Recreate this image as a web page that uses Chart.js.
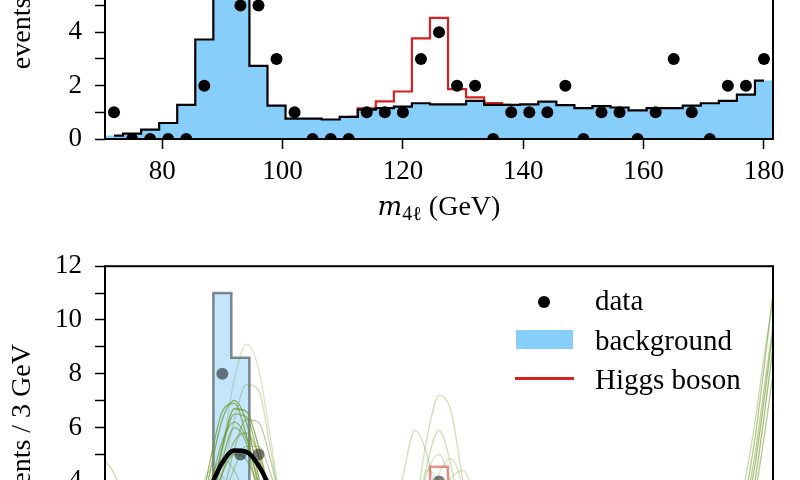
<!DOCTYPE html>
<html>
<head>
<meta charset="utf-8">
<script src="https://cdn.jsdelivr.net/npm/chart.js@4.4.0/dist/chart.umd.min.js"></script>
<style>
  body { margin: 0; width: 800px; height: 480px; overflow: hidden; background: #fff; position: relative; font-family: "Liberation Serif", serif; color: #000; }
  canvas { position: absolute; left: 0; }
  #topChart { top: -197px; }
  #bottomChart { top: 237px; }
  .xtitle { position: absolute; left: 105px; width: 668px; top: 192px; text-align: center; font-size: 28px; line-height: 28px; white-space: nowrap; }
  .xtitle i { font-family: "DejaVu Serif", serif; font-size: 26px; }
  .xtitle sub { font-size: 20px; line-height: 0; vertical-align: -5px; }
  .leg { position: absolute; }
  .legtext { position: absolute; left: 595px; font-size: 29px; line-height: 29px; white-space: nowrap; }
</style>
</head>
<body>
<canvas id="topChart" width="800" height="437"></canvas>
<canvas id="bottomChart" width="800" height="453"></canvas>
<div class="xtitle"><i>m</i><sub>4ℓ</sub>&nbsp;(GeV)</div>

<div class="leg" style="left:538px; top:296px; width:12px; height:12px; border-radius:50%; background:#000;"></div>
<div class="leg" style="left:516px; top:330px; width:57px; height:19px; background:#87cefa;"></div>
<div class="leg" style="left:515px; top:377px; width:59px; height:3px; background:#d8201f;"></div>
<div class="legtext" style="top:286px;">data</div>
<div class="legtext" style="top:326px;">background</div>
<div class="legtext" style="top:365px;">Higgs boson</div>

<script>
// bins of 3 GeV, centres
var binCenters = [72, 75, 78, 81, 84, 87, 90, 93, 96, 99, 102, 105, 108, 111, 114, 117, 120, 123, 126,
                  129, 132, 135, 138, 141, 144, 147, 150, 153, 156, 159, 162, 165, 168, 171, 174, 177, 180];
var binWidth = 3;

// observed events
var dataCounts = [1, 0, 0, 0, 0, 2, 8, 5, 5, 3, 1, 0, 0, 0, 1, 1, 1, 3, 4, 2, 2, 0, 1, 1, 1, 2, 0, 1, 1, 0, 1, 3, 1, 0, 2, 2, 3];

// expected background
var background = [0.13, 0.2, 0.35, 0.6, 1.28, 3.73, 11.0, 8.6, 2.74, 1.25, 0.76, 0.76, 0.73, 0.83, 1.1, 1.16, 1.21, 1.34, 1.3,
                  1.3, 1.43, 1.28, 1.28, 1.3, 1.4, 1.27, 1.16, 1.23, 1.18, 1.07, 1.16, 1.16, 1.25, 1.34, 1.43, 1.66, 2.19];

// background + higgs signal
var higgsCenters = [111, 114, 117, 120, 123, 126, 129, 132, 135, 138];
var higgsTotal = [0.83, 1.15, 1.41, 1.78, 3.77, 4.54, 1.87, 1.56, 1.35, 1.28];

var xTickValues = [80, 100, 120, 140, 160, 180];
var topYTicks = [0, 1, 2, 3, 4, 5, 6, 7, 8, 9, 10, 11];
var bottomYTicks = [0, 1, 2, 3, 4, 5, 6, 7, 8, 9, 10, 11, 12];

// fitted curve (black) and sampled curves (green) of the lower panel
var fitX = [84, 86, 88, 90, 92, 94, 96, 98, 100, 102];
var fitY = [1.6, 2.6, 3.75, 4.7, 5.15, 5.1, 4.6, 3.7, 2.5, 1.5];

var zCurveX = [84, 86, 88, 90, 92, 94, 96, 98, 100, 102];
var zCurves = [
  [0.3, 1.2, 2.8, 5.2, 7.8, 9.1, 8.2, 5.6, 2.8, 1.0],
  [0.3, 1.0, 2.4, 4.3, 6.3, 7.6, 7.4, 5.2, 2.8, 1.2],
  [0.5, 1.6, 3.3, 5.3, 6.7, 6.6, 5.3, 3.4, 1.6, 0.6],
  [0.6, 1.9, 3.8, 5.5, 6.2, 5.6, 4.0, 2.2, 0.9, 0.3],
  [0.3, 1.0, 2.5, 4.3, 5.5, 5.8, 5.0, 3.4, 1.8, 0.7],
  [0.8, 2.5, 4.8, 6.6, 6.9, 5.7, 3.8, 2.0, 0.8, 0.3],
  [0.2, 0.7, 1.8, 3.2, 4.5, 5.3, 5.3, 4.3, 2.8, 1.3],
  [1.0, 2.6, 4.1, 4.8, 4.4, 3.3, 2.0, 1.0, 0.4, 0.1],
  [0.2, 0.6, 1.7, 3.4, 5.2, 6.3, 6.2, 4.8, 2.9, 1.3],
  [0.5, 1.5, 3.0, 4.3, 5.0, 4.8, 3.8, 2.4, 1.2, 0.5],
  [0.7, 2.2, 4.4, 6.3, 7.0, 6.2, 4.2, 2.2, 0.9, 0.3],
  [0.4, 1.4, 3.2, 5.2, 6.5, 6.4, 4.9, 3.0, 1.4, 0.5],
  [1.8, 3.4, 4.4, 4.2, 3.2, 2.0, 1.0, 0.4, 0.1, 0.0],
  [0.4, 1.2, 2.8, 4.8, 6.0, 5.4, 3.4, 1.6, 0.6, 0.2]
];
var hCurveX = [118, 120, 122, 124, 126, 128, 130, 132, 134];
var hCurves = [
  [0.5, 1.3, 3.0, 5.6, 7.2, 6.6, 4.0, 1.8, 0.6],
  [2.2, 4.2, 5.9, 5.0, 2.9, 1.2, 0.4, 0.1, 0.0],
  [0.2, 0.7, 2.0, 4.6, 5.9, 4.6, 2.2, 0.8, 0.2],
  [0.1, 0.4, 1.2, 2.8, 4.3, 4.85, 3.8, 2.0, 0.8],
  [0.0, 0.2, 0.6, 1.6, 3.0, 4.1, 4.4, 3.4, 1.8],
  [0.3, 1.0, 2.4, 4.3, 5.0, 3.9, 2.0, 0.8, 0.2],
  [0.5, 1.4, 3.0, 4.4, 4.0, 2.5, 1.1, 0.4, 0.1]
];
var rCurveX = [172, 175, 177, 178.5, 180, 181.5];
var rCurves = [
  [0.5, 1.8, 3.6, 5.6, 8.2, 11.0],
  [0.4, 1.4, 2.9, 4.6, 7.0, 9.6],
  [0.6, 2.2, 4.2, 6.2, 8.6, 10.8],
  [0.3, 1.1, 2.4, 4.0, 6.4, 9.0],
  [0.4, 1.5, 3.2, 5.0, 7.4, 9.8],
  [0.2, 0.9, 2.0, 3.5, 5.6, 8.0]
];
var lCurveX = [70.5, 72, 74, 76, 78];
var lCurves = [
  [4.8, 4.3, 3.2, 2.0, 1.0]
];

// line opacities for the green curves (style only)
var zAlpha = [0.25, 0.3, 0.7, 0.6, 0.5, 0.65, 0.4, 0.35, 0.45, 0.5, 0.7, 0.55, 0.25, 0.6];
var hAlpha = [0.3, 0.3, 0.3, 0.25, 0.25, 0.25, 0.2];
var rAlpha = [0.5, 0.6, 0.35, 0.6, 0.45, 0.5];
var lAlpha = [0.35];

Chart.defaults.font.family = "'Liberation Serif', serif";
Chart.defaults.color = '#000';
Chart.defaults.animation = false;

function pts(xs, ys) {
  var out = [];
  for (var i = 0; i < xs.length; i++) {
    if (ys[i] !== null) out.push({x: xs[i], y: ys[i]});
  }
  return out;
}

// histogram outline for the fill: left edges + last right edge
function histEdges(vals) {
  var out = [];
  for (var i = 0; i < binCenters.length; i++) {
    out.push({x: binCenters[i] - binWidth / 2, y: vals[i]});
  }
  out.push({x: binCenters[binCenters.length - 1] + binWidth / 2, y: vals[vals.length - 1]});
  return out;
}

var frame = {
  id: 'frame',
  afterDatasetsDraw: function(chart) {
    var ctx = chart.ctx, a = chart.chartArea;
    ctx.save();
    ctx.strokeStyle = '#000';
    ctx.lineWidth = 2;
    ctx.strokeRect(a.left, a.top, a.right - a.left, a.bottom - a.top);
    ctx.restore();
  }
};

function xScale() {
  return {
    type: 'linear', min: 70.5, max: 181.5,
    afterBuildTicks: function(s) { s.ticks = xTickValues.map(function(v) { return {value: v}; }); },
    afterFit: function(s) { s.height = 101; },
    ticks: { autoSkip: false, maxRotation: 0, padding: 7, font: {size: 27} },
    grid: { drawOnChartArea: false, tickLength: 10, tickColor: '#000', tickWidth: 1.5 },
    border: { display: false }
  };
}

function yScale(max, ticks) {
  return {
    type: 'linear', min: 0, max: max,
    afterBuildTicks: function(s) { s.ticks = ticks.map(function(v) { return {value: v}; }); },
    afterFit: function(s) { s.width = 105; },
    ticks: { autoSkip: false, padding: 13, font: {size: 27},
             callback: function(v) { return v % 2 === 0 ? String(v) : ''; } },
    grid: { drawOnChartArea: false, tickLength: 10, tickColor: '#000', tickWidth: 1.5 },
    border: { display: false },
    title: { display: true, text: 'events / 3 GeV', font: {size: 28}, padding: {top: 6, bottom: 0} }
  };
}

// top panel
new Chart(document.getElementById('topChart'), {
  type: 'line',
  data: {
    datasets: [
      { label: 'data', data: pts(binCenters, dataCounts), showLine: false,
        pointRadius: 6, pointBackgroundColor: '#000', pointBorderWidth: 0, clip: 0 },
      { label: 'background line', data: pts(binCenters, background), stepped: 'middle',
        borderColor: '#000', borderWidth: 2.2, pointRadius: 0, fill: false },
      { label: 'Higgs boson', data: pts(higgsCenters, higgsTotal), stepped: 'middle',
        borderColor: '#d8201f', borderWidth: 2.2, pointRadius: 0, fill: false },
      { label: 'background', data: histEdges(background), stepped: 'before',
        borderWidth: 0, pointRadius: 0, fill: 'origin', backgroundColor: '#87cefa' }
    ]
  },
  options: {
    responsive: false,
    layout: { padding: {top: 0, right: 27, left: 0, bottom: 0} },
    plugins: { legend: {display: false}, tooltip: {enabled: false} },
    scales: { x: xScale(), y: yScale(11.5, topYTicks) }
  },
  plugins: [frame]
});

// bottom panel
var bottomSets = [
  { label: 'fit', data: pts(fitX, fitY), borderColor: '#000', borderWidth: 4.5,
    pointRadius: 0, cubicInterpolationMode: 'monotone', fill: false },
  { label: 'data', data: pts(binCenters, dataCounts), showLine: false,
    pointRadius: 6, pointBackgroundColor: 'rgba(0,0,0,0.5)', pointBorderWidth: 0, clip: 0 }
];
function addCurves(xs, curves, alphas) {
  curves.forEach(function(c, i) {
    bottomSets.push({ label: 'sample', data: pts(xs, c), borderColor: 'rgba(105,145,30,' + alphas[i] + ')',
      borderWidth: 1.3, pointRadius: 0, cubicInterpolationMode: 'monotone', fill: false });
  });
}
addCurves(zCurveX, zCurves, zAlpha);
addCurves(hCurveX, hCurves, hAlpha);
addCurves(rCurveX, rCurves, rAlpha);
addCurves(lCurveX, lCurves, lAlpha);
bottomSets.push(
  { label: 'Higgs boson', data: pts(higgsCenters, higgsTotal), stepped: 'middle',
    borderColor: 'rgba(216,32,31,0.5)', borderWidth: 2.5, pointRadius: 0, fill: false },
  { label: 'background line', data: pts(binCenters, background), stepped: 'middle',
    borderColor: 'rgba(0,0,0,0.45)', borderWidth: 2.5, pointRadius: 0, fill: false },
  { label: 'background', data: histEdges(background), stepped: 'before',
    borderWidth: 0, pointRadius: 0, fill: 'origin', backgroundColor: 'rgba(135,206,250,0.5)' }
);

new Chart(document.getElementById('bottomChart'), {
  type: 'line',
  data: { datasets: bottomSets },
  options: {
    responsive: false,
    layout: { padding: {top: 0, right: 27, left: 0, bottom: 0} },
    plugins: { legend: {display: false}, tooltip: {enabled: false} },
    scales: { x: xScale(), y: yScale(12, bottomYTicks) }
  },
  plugins: [frame]
});
</script>
</body>
</html>
